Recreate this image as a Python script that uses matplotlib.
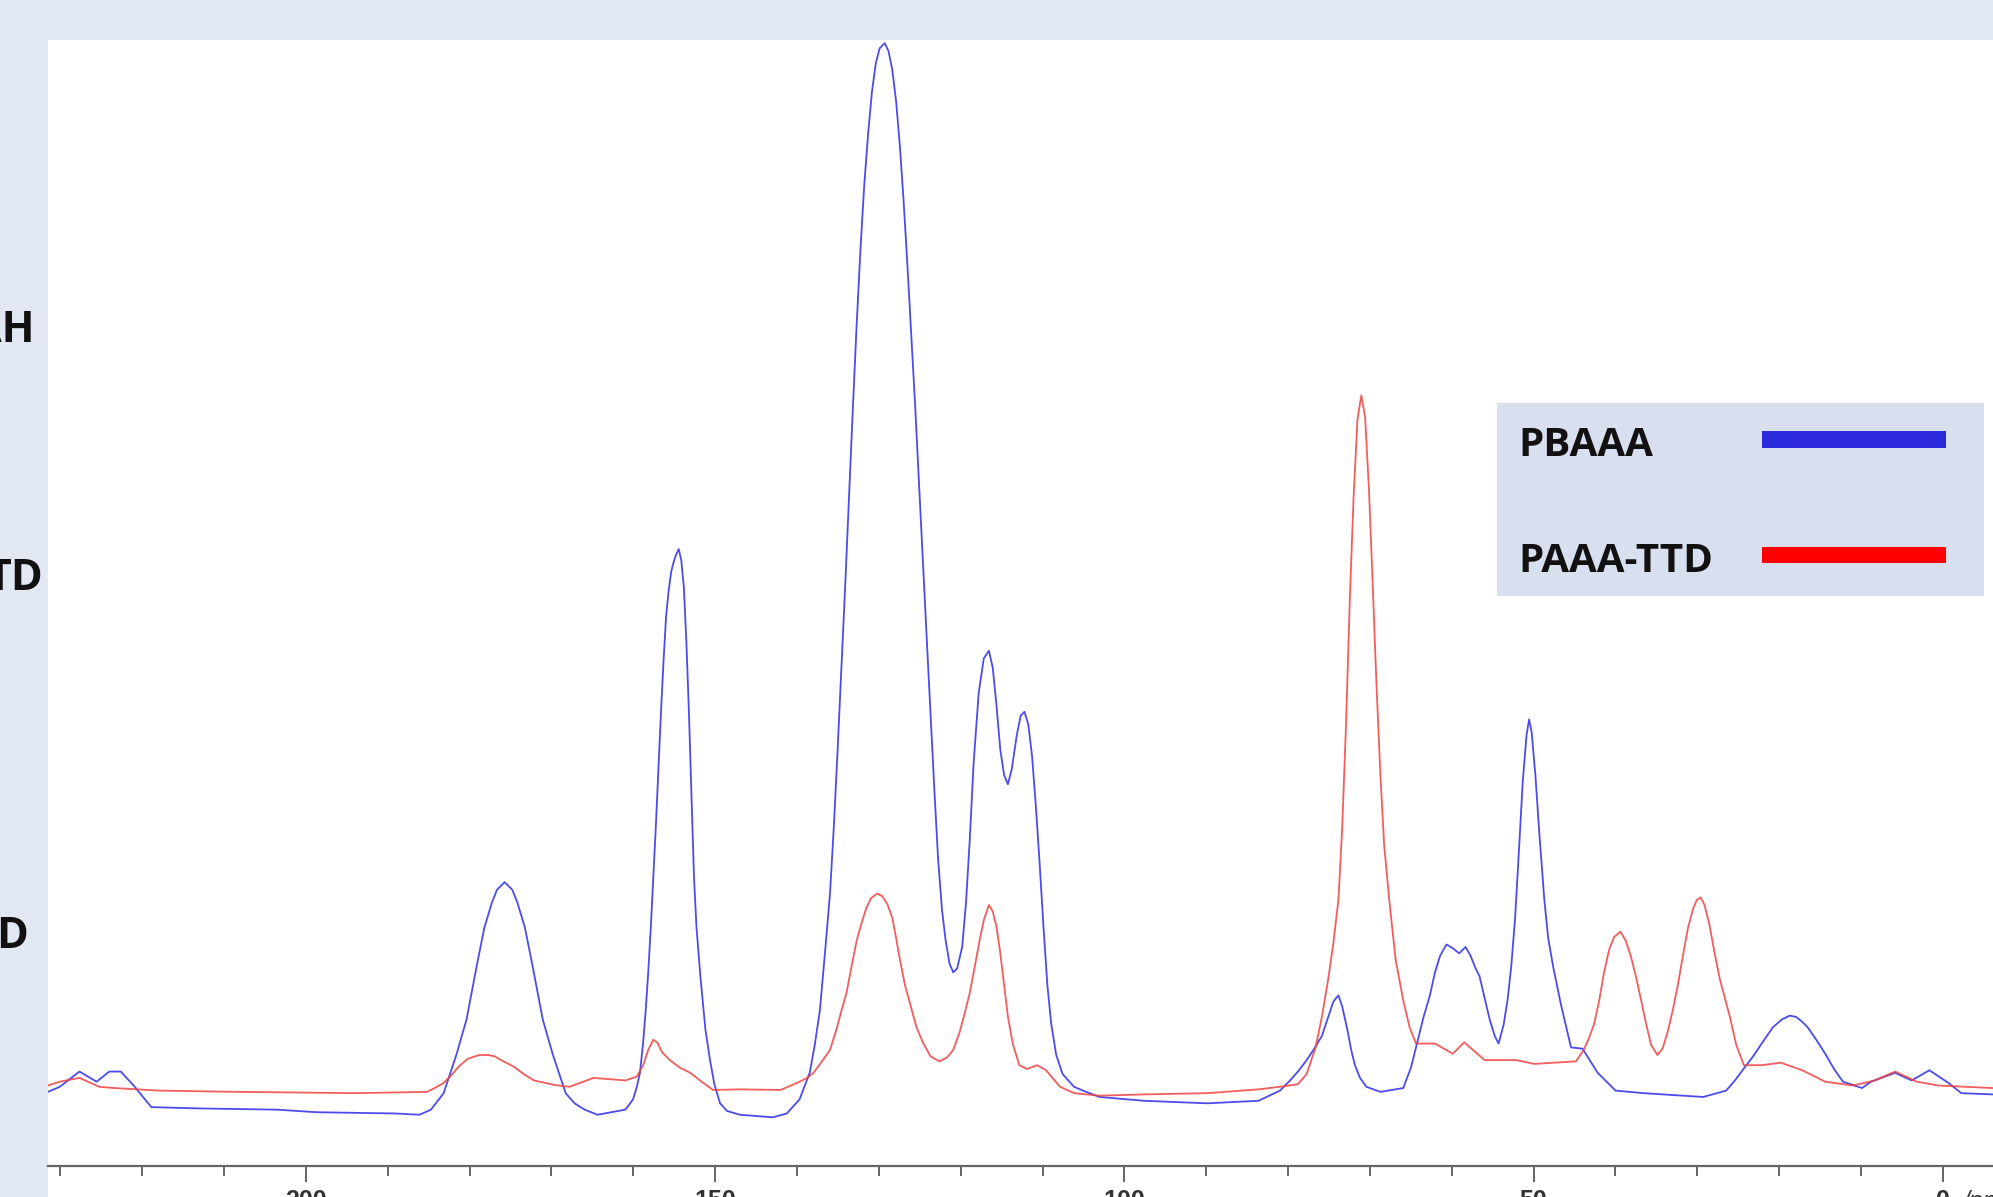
import matplotlib
matplotlib.use("Agg")
import matplotlib.pyplot as plt
from matplotlib.ticker import MultipleLocator
from matplotlib.patches import Rectangle

# ---------------- data ----------------
pbaaa_ppm = [231.53, 230.08, 227.67, 225.58, 224.02, 222.63, 220.92, 218.90, 213.15, 203.52,
             198.71, 189.08, 186.13, 184.73, 183.18, 181.63, 180.38, 179.14, 178.21, 177.28,
             176.66, 175.73, 174.79, 174.17, 173.24, 172.31, 171.07, 169.82, 168.27, 167.18,
             165.94, 164.39, 160.97, 160.04, 159.57, 159.19, 158.80, 158.49, 158.18, 157.87,
             157.56, 157.25, 156.94, 156.62, 156.31, 156.00, 155.69, 155.38, 155.07, 154.76,
             154.45, 154.14, 153.83, 153.52, 153.21, 152.90, 152.59, 152.28, 151.81, 151.19,
             150.63, 150.10, 149.40, 148.55, 146.99, 142.96, 141.25, 139.70,
             138.45, 137.83, 137.21, 136.59, 135.97, 135.50, 135.04, 134.57, 134.11, 133.64,
             133.17, 132.71, 132.24, 131.78, 131.31, 130.84, 130.38, 129.91, 129.29, 128.83,
             128.36, 127.89, 127.43, 126.96, 126.50, 126.03, 125.56, 125.10, 124.63, 124.17,
             123.70, 123.23, 122.77, 122.30, 121.84, 121.37, 120.91, 120.44, 119.82, 119.35,
             118.89, 118.42, 117.80, 117.18, 116.56, 116.09, 115.63, 115.16, 114.69, 114.23,
             113.76, 113.14, 112.67, 112.21, 111.74, 111.28, 110.81, 110.35, 109.88, 109.41,
             108.95, 108.33, 107.55, 106.15, 105.06,
             103.05, 97.61, 89.85, 83.63, 80.99,
             79.75, 78.66, 77.73, 76.80, 75.87, 75.09, 74.47, 73.85, 73.38, 72.76,
             72.29, 71.83, 71.21, 70.43, 68.72,
             65.93, 64.99, 64.22, 63.44, 62.67, 62.05, 61.43, 60.65, 59.87, 59.10,
             58.32, 57.70, 57.08, 56.61, 55.99, 55.37, 54.75,
             54.28, 53.66, 53.19, 52.73, 52.26, 51.80, 51.33, 50.86, 50.55, 50.24,
             49.78, 49.31, 48.69, 48.22, 47.60, 46.67, 45.43,
             44.03, 42.17, 39.99, 36.58, 29.28, 26.48,
             25.40, 23.07, 21.82, 20.74, 19.65, 18.72, 17.94, 17.16, 16.54, 15.46,
             14.37, 13.29, 12.20,
             9.87, 8.78, 5.83, 3.81, 1.64, -0.70, -2.25, -6.13]
pbaaa_int = [58, 62, 74, 66, 74, 74, 62, 46, 45, 44,
             42, 41, 40, 44, 57, 87, 115, 157, 187, 207,
             217, 223, 217, 207, 187, 157, 115, 87, 57, 49,
             44, 40, 44, 52, 62, 73, 97, 122, 152, 187,
             227, 267, 312, 357, 397, 432, 452, 467, 475, 481,
             485, 476, 455, 412, 357, 292, 227, 187, 149, 107,
             83, 64, 49, 43, 40, 38, 41, 52,
             73, 95, 122, 167, 214, 267, 327, 392, 457, 527,
             597, 662, 722, 772, 812, 845, 867, 879, 883, 877,
             862, 837, 802, 757, 707, 652, 597, 537, 477, 417,
             357, 297, 242, 202, 177, 159, 152, 155, 172, 207,
             257, 317, 372, 399, 405, 392, 362, 327, 307, 300,
             312, 339, 354, 357, 347, 322, 282, 237, 187, 142,
             112, 87, 72, 62, 59,
             54, 51, 49, 51, 59,
             67, 75, 83, 92, 102, 117, 129, 134, 125, 107,
             91, 79, 69, 62, 58,
             61, 77, 97, 117, 134, 152, 165, 174, 171, 167,
             172, 165, 155, 149, 132, 115, 102,
             96, 111, 130, 157, 195, 247, 302, 339, 351, 341,
             307, 262, 209, 179, 156, 127, 93,
             92, 73, 59, 57, 54, 59,
             67, 87, 99, 109, 115, 118, 117, 113, 109, 99,
             88, 76, 66,
             61, 66, 73, 67, 75, 65, 57, 56]

paaa_ttd_ppm = [231.53, 230.08, 227.67, 225.27, 223.40, 217.97, 208.34, 193.90, 185.20, 184.27,
                183.18, 182.25, 181.32, 180.23, 178.83, 177.75, 176.97, 175.88, 174.64, 173.40,
                172.15, 169.67, 167.80, 164.86, 160.97, 159.57, 158.80, 158.18, 157.56, 157.09,
                156.47, 155.54, 154.30, 153.05, 151.65, 150.26, 146.99, 142.02,
                140.01, 138.76, 137.99, 137.06, 135.97, 135.19, 134.57, 133.95, 133.33, 132.71,
                132.24, 131.62, 131.00, 130.22, 129.60, 128.98, 128.36, 127.89, 127.43, 126.81,
                126.18, 125.41, 124.63, 123.70, 122.61, 121.68, 120.91, 120.13, 119.51, 118.89,
                118.27, 117.64, 117.18, 116.56, 116.09, 115.63, 115.16, 114.69, 114.23, 113.61,
                112.83, 111.90, 110.65, 109.57, 108.79, 107.86, 106.15, 103.05,
                97.61, 89.85, 83.63, 80.99,
                78.82, 77.73, 76.64, 75.87, 75.09, 74.47, 73.85, 73.38, 72.92, 72.45,
                71.99, 71.52, 71.05, 70.59, 70.12, 69.66, 69.19, 68.72, 68.26, 67.64,
                66.86, 65.93, 65.16, 64.37,
                62.05, 59.87, 58.48, 55.99, 52.11, 49.94,
                44.81, 43.88, 43.25, 42.63, 42.01, 41.39, 40.77, 40.15, 39.38, 38.75,
                38.13, 37.51, 36.89, 36.27, 35.65, 34.87, 34.25, 33.63, 33.00, 32.38,
                31.76, 31.14, 30.52, 30.05, 29.59, 29.12, 28.50, 27.88, 27.26, 26.64,
                26.02, 25.24, 24.31,
                22.13, 19.80, 17.17, 14.37, 10.95, 8.32, 5.83, 3.19, 0.54, -6.13]
paaa_ttd_int = [63, 66, 69, 62, 61, 59, 58, 57, 58, 61,
                65, 71, 78, 84, 87, 87, 86, 82, 78, 72,
                67, 63.5, 62, 69, 67, 70, 79, 91, 99, 97,
                89, 83, 77, 73, 66, 59.5, 60, 59.5,
                65, 69, 73, 81, 91, 107, 122, 136, 157, 177,
                188, 201, 210, 214, 212, 206, 195, 179, 162, 142,
                127, 109, 97, 86, 82, 85, 91, 105, 120, 136,
                157, 179, 193, 205, 200, 188, 167, 142, 117, 95,
                79, 76, 79, 75, 69, 62, 57, 55,
                56, 57, 60, 62,
                64, 72, 93, 117, 147, 175, 209, 267, 347, 447,
                527, 587, 606, 589, 532, 457, 377, 307, 252, 209,
                162, 130, 109, 96,
                96, 88, 97, 83, 83, 80,
                82, 91, 100, 111, 129, 152, 170, 180, 184, 177,
                165, 149, 131, 112, 95, 87, 92, 105, 122, 142,
                165, 187, 202, 209, 211, 205, 189, 167, 147, 132,
                117, 95, 79,
                79, 81, 75, 66, 63, 67, 74, 66, 63, 61]

major_ticks = [200, 150, 100, 50, 0]
major_labels = ["200", "150", "100", "50", "0"]
series_names = ["PBAAA", "PAAA-TTD"]
side_labels = ["AH", "TD", "D"]

# ---------------- figure ----------------
W, H = 1993, 1197
fig = plt.figure(figsize=(W / 100, H / 100), dpi=100, facecolor="#e1e8f4")

def fx(px):
    return px / W

def fy(py):
    return 1 - py / H

ax = fig.add_axes([fx(48), 0, fx(1993) - fx(48), fy(40)])
ax.set_facecolor("white")
ax.plot(pbaaa_ppm, pbaaa_int, color="#3838e8", lw=1.3, alpha=0.9)
ax.plot(paaa_ttd_ppm, paaa_ttd_int, color="#f04040", lw=1.3, alpha=0.85)
ax.set_xlim(231.52, -6.13)
ax.set_ylim(-24.7, 885.5)

for s in ["top", "right", "left"]:
    ax.spines[s].set_visible(False)
ax.spines["bottom"].set_position(("data", 0))
ax.spines["bottom"].set_color("#666666")
ax.spines["bottom"].set_linewidth(1.6)
ax.set_yticks([])
ax.set_xticks(major_ticks)
ax.set_xticklabels(major_labels)
ax.xaxis.set_minor_locator(MultipleLocator(10))
ax.tick_params(axis="x", which="major", direction="out", length=11.5, width=1.4,
               color="#666666", pad=5, labelsize=18, labelcolor="#333333")
ax.tick_params(axis="x", which="minor", direction="out", length=7.5, width=1.4,
               color="#666666")
for lab in ax.get_xticklabels():
    lab.set_fontweight("bold")
    lab.set_family("Liberation Sans")

fig.text(fx(1962), fy(1190), "/ppm", ha="left", va="top", fontsize=18,
         color="#333333", style="italic", family="Liberation Sans")

# ---------------- legend box ----------------
fig.patches.append(Rectangle((fx(1497), fy(596)), fx(1984) - fx(1497), fy(403) - fy(596),
                             transform=fig.transFigure, facecolor="#d8e0ef",
                             edgecolor="none", zorder=5))
fig.patches.append(Rectangle((fx(1762), fy(448)), fx(1946) - fx(1762), fy(431) - fy(448),
                             transform=fig.transFigure, facecolor="#2b2bdd",
                             edgecolor="none", zorder=6))
fig.patches.append(Rectangle((fx(1762), fy(563)), fx(1946) - fx(1762), fy(547) - fy(563),
                             transform=fig.transFigure, facecolor="#ff0000",
                             edgecolor="none", zorder=6))
fig.text(fx(1518), fy(445), series_names[0], ha="left", va="center", fontsize=29,
         fontweight="bold", family="Open Sans", color="#111111", zorder=7)
fig.text(fx(1518), fy(561), series_names[1], ha="left", va="center", fontsize=29,
         fontweight="bold", family="Open Sans", color="#111111", zorder=7)

# ---------------- clipped side labels ----------------
fig.text(fx(34), fy(330), side_labels[0], ha="right", va="center", fontsize=31,
         fontweight="bold", family="Open Sans", color="#111111")
fig.text(fx(43), fy(578), side_labels[1], ha="right", va="center", fontsize=31,
         fontweight="bold", family="Open Sans", color="#111111")
fig.text(fx(28), fy(936), side_labels[2], ha="right", va="center", fontsize=31,
         fontweight="bold", family="Open Sans", color="#111111")

fig.savefig("out.png", dpi=100, facecolor=fig.get_facecolor())
